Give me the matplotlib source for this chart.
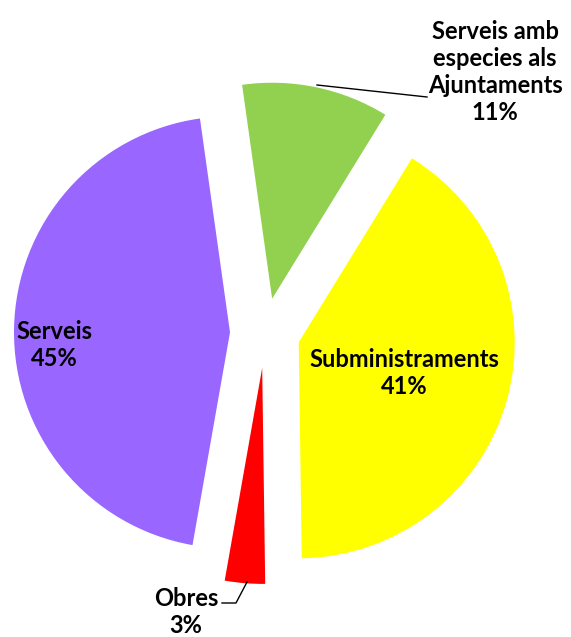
import matplotlib.pyplot as plt

# share of contracts by type
labels = ["Serveis amb\nespecies als\nAjuntaments", "Subministraments", "Obres", "Serveis"]
values = [11, 41, 3, 45]
colors = ["#92D050", "#FFFF00", "#FF0000", "#9966FF"]

W, H = 571, 637
fig = plt.figure(figsize=(W / 100, H / 100), dpi=100)
ax = fig.add_axes([0, 0, 1, 1])

# explode is in data units here (pixels), not radius fractions
ax.pie(values, colors=colors, startangle=98, counterclock=False,
       center=(265, H - 333), radius=216, explode=[35] * 4,
       wedgeprops=dict(linewidth=0))
ax.set_xlim(0, W)
ax.set_ylim(0, H)
ax.set_aspect("equal")
ax.axis("off")

font = dict(family=["Lato", "DejaVu Sans"], fontweight="bold", fontsize=17,
            ha="center", va="center", linespacing=1.2)
pct = [f"{v}%" for v in values]
ax.text(495, H - 72, labels[0] + "\n" + pct[0], **font)
ax.text(404, H - 373, labels[1] + "\n" + pct[1], **font)
ax.text(186, H - 612, labels[2] + "\n" + pct[2], **font)
ax.text(54, H - 345, labels[3] + "\n" + pct[3], **font)

# leader lines
ax.plot([317, 427], [H - 85, H - 97], color="black", lw=1)
ax.plot([222, 236, 247], [H - 603, H - 603, H - 582], color="black", lw=1)

fig.savefig("out.png", dpi=100)
